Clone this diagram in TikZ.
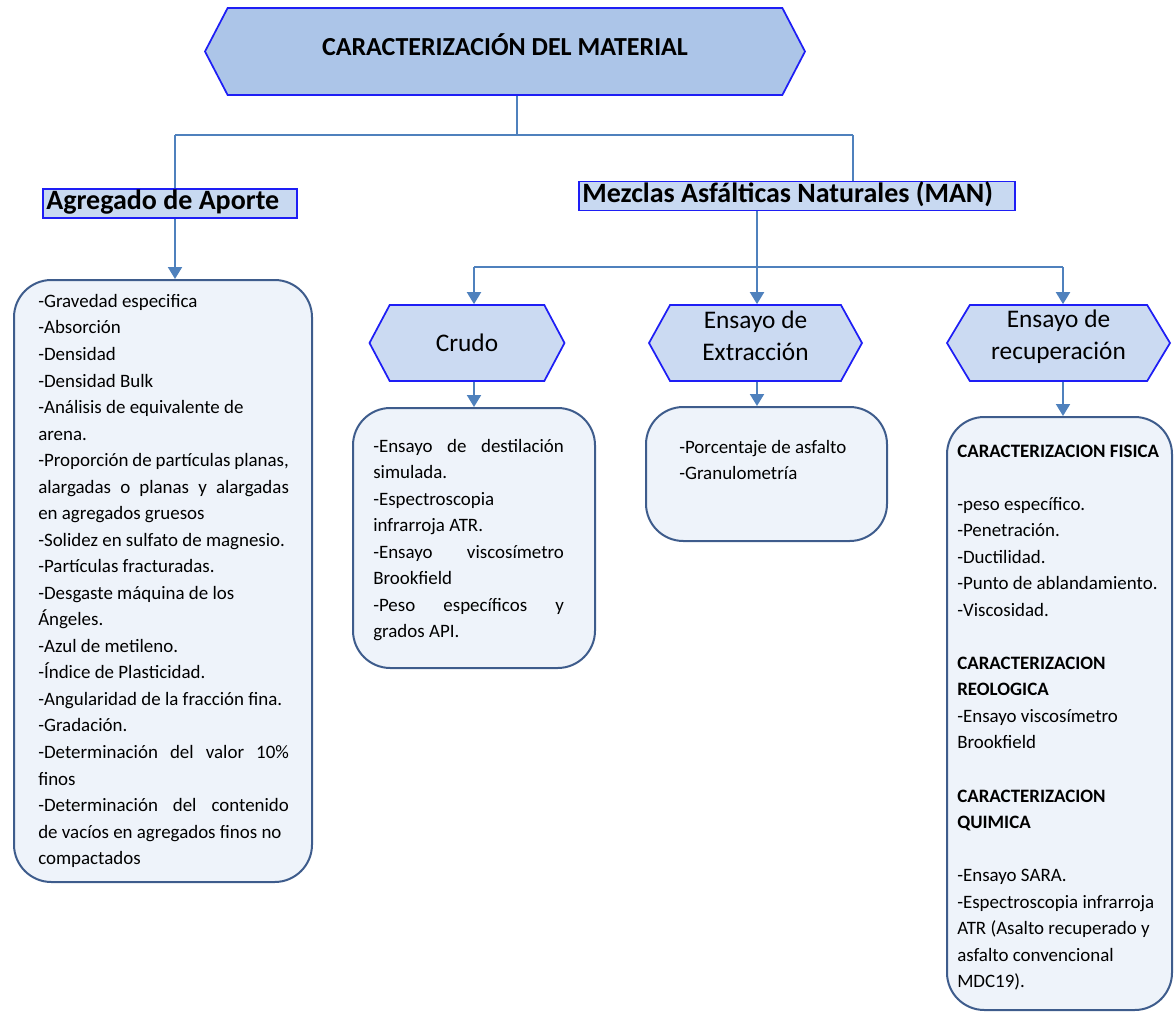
\documentclass[tikz,border=0pt]{standalone}
\usepackage{fontspec}
\setmainfont{Carlito}
\usetikzlibrary{arrows.meta,shapes.symbols}

\definecolor{hexfill}{RGB}{172,197,232}
\definecolor{hexlight}{RGB}{203,218,242}
\definecolor{hexline}{RGB}{30,30,245}
\definecolor{tagfill}{RGB}{200,217,241}
\definecolor{listfill}{RGB}{238,243,250}
\definecolor{listline}{RGB}{62,92,140}
\definecolor{linkblue}{RGB}{79,129,189}

\newcommand{\justline}[1]{\makebox[\hsize][s]{#1}}

\begin{document}
\begin{tikzpicture}[x=0.75pt, y=-0.75pt,
    plainspace/.style={execute at begin node={\spaceskip=0pt\xspaceskip=0pt\relax}},
    hexbox/.style={shape=signal, signal to=east and west, signal pointer angle=122,
      draw=hexline, line width=1.3pt, fill=hexlight, minimum height=57pt,
      inner sep=0pt, align=center, font=\fontsize{19pt}{24pt}\selectfont},
    tagbox/.style={plainspace, draw=hexline, line width=1pt, fill=tagfill, inner xsep=2.5pt,
      inner ysep=1.5pt, text height=14pt, text depth=4.5pt, align=left,
      font=\bfseries\fontsize{21pt}{24pt}\selectfont},
    listbox/.style={draw=listline, line width=1.5pt, fill=listfill, rounded corners=28pt},
    listtext/.style={plainspace, anchor=west, inner sep=0pt, align=left,
      font=\fontsize{14.2pt}{19.9pt}\selectfont},
    link/.style={draw=linkblue, line width=1.5pt},
    arrow/.style={link, -{Triangle[width=10.5pt,length=9pt]}}]

  \useasboundingbox (0,0) rectangle (1174,1013);

  % title
  \node[hexbox, fill=hexfill, minimum width=450pt, minimum height=65.25pt,
    signal pointer angle=125, text depth=10pt,
    font=\bfseries\fontsize{19.5pt}{24pt}\selectfont] (title) at (505,51.5)
    {CARACTERIZACIÓN DEL MATERIAL};

  % two branches
  \node[tagbox, text width=185.5pt] (agregado) at (170,203.5) {Agregado de Aporte};
  \node[tagbox, text width=322pt] (man) at (797,196) {Mezclas Asfálticas Naturales (MAN)};

  \coordinate (j0) at (517,135);
  \coordinate (jl) at (175,135);
  \coordinate (jr) at (853,135);
  \draw[link] (title.south -| j0) -- (j0);
  \draw[link] (jl) -- (jr);
  \draw[link] (jl) -- (jl |- agregado.north);
  \draw[link] (jr) -- (jr |- man.north);

  % agregado list
  \node[listbox, minimum width=223.5pt, minimum height=451.5pt] (agrlist) at (163,581) {};
  \node[listtext, text width=188pt] (agrtext) at (38,581) {%
    -Gravedad especifica\\
    -Absorción\\
    -Densidad\\
    -Densidad Bulk\\
    -Análisis de equivalente de\\
    arena.\\
    \justline{-Proporción de partículas planas,}\\
    \justline{alargadas o planas y alargadas}\\
    en agregados gruesos\\
    -Solidez en sulfato de magnesio.\\
    -Partículas fracturadas.\\
    -Desgaste máquina de los\\
    Ángeles.\\
    -Azul de metileno.\\
    -Índice de Plasticidad.\\
    -Angularidad de la fracción fina.\\
    -Gradación.\\
    \justline{-Determinación del valor 10\%}\\
    finos\\
    \justline{-Determinación del contenido}\\
    de vacíos en agregados finos no\\
    compactados};
  \draw[arrow] (agregado.south -| jl) -- (jl |- agrlist.north);

  % MAN tests
  \node[hexbox, minimum width=146.25pt, signal pointer angle=124] (crudo) at (467,343) {Crudo};
  \node[hexbox, minimum width=159.75pt, text depth=10.5pt] (extr) at (755.5,343) {Ensayo de\\Extracción};
  \node[hexbox, minimum width=167.25pt, signal pointer angle=118, text depth=12pt] (recup) at (1058.5,343) {Ensayo de\\recuperación};

  \coordinate (k0) at (757,267);
  \coordinate (kl) at (474,267);
  \coordinate (kr) at (1063,267);
  \draw[link] (man.south -| k0) -- (k0);
  \draw[link] (kl) -- (kr);
  \draw[arrow] (kl) -- (kl |- crudo.north);
  \draw[arrow] (k0) -- (k0 |- extr.north);
  \draw[arrow] (kr) -- (kr |- recup.north);

  \node[listbox, minimum width=181.5pt, minimum height=195pt] (crudolist) at (474,538) {};
  \node[listtext, text width=143pt] (crudotext) at (373,540) {%
    \justline{-Ensayo de destilación}\\
    simulada.\\
    -Espectroscopia\\
    infrarroja ATR.\\
    \justline{-Ensayo viscosímetro}\\
    Brookfield\\
    \justline{-Peso específicos y}\\
    grados API.};

  \node[listbox, minimum width=180.75pt, minimum height=100.5pt] (extrlist) at (766.5,474) {};
  \node[listtext] (extrtext) at (679,460) {%
    -Porcentaje de asfalto\\
    -Granulometría};

  \node[listbox, minimum width=168.75pt, minimum height=444.75pt] (recuplist) at (1059.5,713.5) {};
  \node[listtext] (recuptext) at (957,717.5) {%
    \textbf{CARACTERIZACION FISICA}\\
    \mbox{}\\
    -peso específico.\\
    -Penetración.\\
    -Ductilidad.\\
    -Punto de ablandamiento.\\
    -Viscosidad.\\
    \mbox{}\\
    \textbf{CARACTERIZACION}\\
    \textbf{REOLOGICA}\\
    -Ensayo viscosímetro\\
    Brookfield\\
    \mbox{}\\
    \textbf{CARACTERIZACION}\\
    \textbf{QUIMICA}\\
    \mbox{}\\
    -Ensayo SARA.\\
    -Espectroscopia infrarroja\\
    ATR (Asalto recuperado y\\
    asfalto convencional\\
    MDC19).};

  \draw[arrow] (crudo.south -| kl) -- (kl |- crudolist.north);
  \draw[arrow] (extr.south -| k0) -- (k0 |- extrlist.north);
  \draw[arrow] (recup.south -| kr) -- (kr |- recuplist.north);
\end{tikzpicture}
\end{document}
